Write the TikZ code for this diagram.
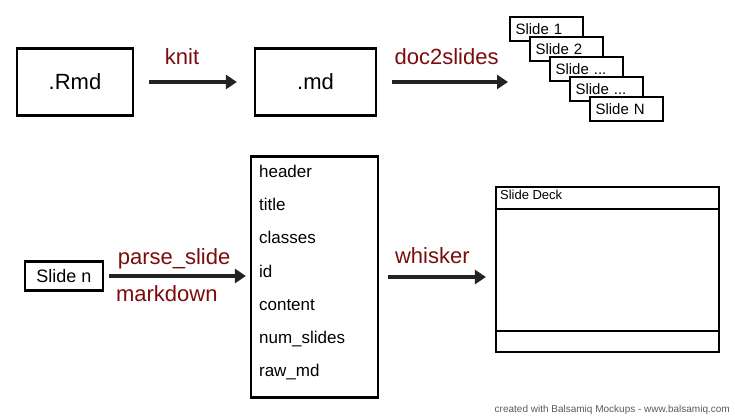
\documentclass[tikz,border=0pt]{standalone}
\usepackage{fontspec}
\setmainfont{Liberation Sans}
\usetikzlibrary{arrows.meta,shadows}

\definecolor{lblred}{HTML}{7B0C0C}
\definecolor{arrowgray}{HTML}{232323}
\newcommand{\sdots}{...}

\tikzset{
  sketchbox/.style={draw=black, line width=2.2pt, fill=white,
    drop shadow={shadow xshift=1.2pt, shadow yshift=-1.2pt, fill=black, opacity=1}},
  flow/.style={draw=arrowgray, line width=4pt, -{Triangle[width=14pt,length=11pt]}},
  lbl/.style={text=lblred, font=\fontsize{22}{26}\selectfont, anchor=base},
  filebox/.style={sketchbox, minimum width=#1, minimum height=67pt, font=\fontsize{22}{26}\selectfont},
  slidebox/.style={sketchbox, minimum width=73pt, minimum height=24pt, text width=62pt,
    align=left, inner sep=5pt, font=\fontsize{15}{18}\selectfont},
  fieldtxt/.style={anchor=base west, inner sep=0pt, font=\fontsize{17}{20}\selectfont},
}

\begin{document}
\begin{tikzpicture}[x=1pt,y=-1pt]
  \useasboundingbox (0,0) rectangle (735,417);

  % top row
  \node[filebox=116pt] (rmd) at (75,82) {.Rmd};
  \node[filebox=121pt] (md) at (315.5,82) {.md};
  \coordinate (stackin) at (508,82);
  \foreach \s [count=\i] in {Slide 1,Slide 2,Slide \sdots,Slide \sdots,Slide N}
    \node[slidebox] (s\i) at ({526.5+20*\i},{9+20*\i}) {\s};

  \draw[flow, shorten <=15pt, shorten >=17pt] (rmd) -- (md)
    node[lbl, pos=.40, yshift=17pt] {knit};
  \draw[flow] ([xshift=15pt]md.east) -- (stackin)
    node[lbl, pos=.47, yshift=17pt] {doc2slides};

  % bottom row
  \node[sketchbox, minimum width=78pt, minimum height=29pt,
    font=\fontsize{18}{21}\selectfont] (slide) at (64,276) {Slide n};
  \node[sketchbox, minimum width=127pt, minimum height=241pt] (fields) at (314.5,277) {};
  \foreach \t [count=\i] in {header,title,classes,id,content,num\_slides,raw\_md}
    \node[fieldtxt] (f\i) at ([shift={(9,{22+33.2*(\i-1)})}]fields.north west) {\t};

  \node[sketchbox, minimum width=223pt, minimum height=165pt] (deck) at (607.5,269.5) {};
  \draw[line width=2.2pt] ([yshift=-23pt]deck.north west) -- ([yshift=-23pt]deck.north east);
  \draw[line width=2.2pt] ([yshift=22pt]deck.south west) -- ([yshift=22pt]deck.south east);
  \node[anchor=base west, inner sep=0pt, font=\fontsize{13}{15}\selectfont] (decktitle)
    at ([shift={(5,14)}]deck.north west) {Slide Deck};

  \draw[flow, shorten <=5pt, shorten >=4pt] (slide) -- (slide -| fields.west)
    node[lbl, pos=.48, yshift=12pt] {parse\_slide}
    node[lbl, pos=.43, yshift=-25pt] {markdown};
  \draw[flow, shorten <=9pt, shorten >=9pt] (fields.east) -- (fields.east -| deck.west)
    node[lbl, pos=.46, yshift=14pt] {whisker};

  \node[anchor=base east, inner sep=0pt, text=black!65, font=\fontsize{10}{12}\selectfont]
    (credit) at (730,412) {created with Balsamiq Mockups - www.balsamiq.com};
\end{tikzpicture}
\end{document}
